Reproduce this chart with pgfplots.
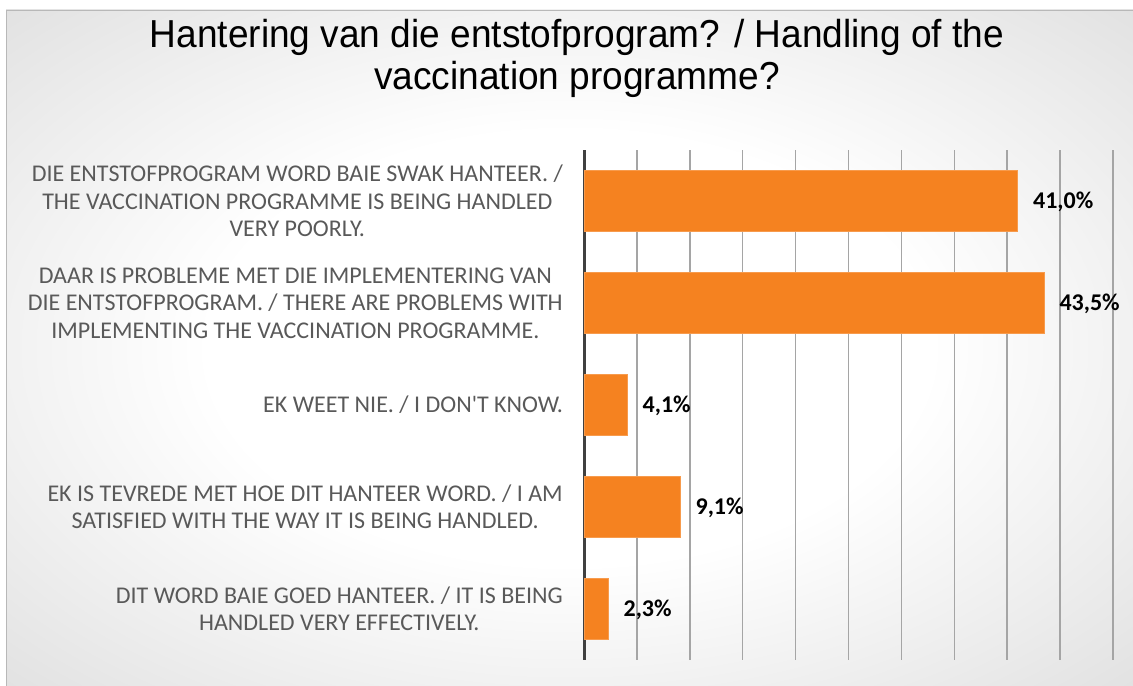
\documentclass[border=0pt]{standalone}
\usepackage{pgfplots}
\pgfplotsset{compat=1.18}
\usepackage{fontspec}
\setmainfont{Carlito}
\newfontfamily\titlefont{Liberation Sans}
\definecolor{barorange}{RGB}{245,130,32}
\definecolor{labgray}{RGB}{89,89,89}
\definecolor{gridgray}{RGB}{165,165,165}
\definecolor{axisdark}{RGB}{64,64,64}
\pgfdeclareradialshading{bgshade}{\pgfpoint{0bp}{0bp}}{color(0bp)=(white); color(16bp)=(white); color(50bp)=(black!20); color(72bp)=(black!27)}
\begin{document}
\begin{tikzpicture}[x=1bp,y=1bp]
\useasboundingbox (0,0) rectangle (1133,686);
\shade[shading=bgshade] (6,0) rectangle (1133,676);
\draw[black!28, line width=0.8bp] (6.4,0) -- (6.4,675.6) -- (1133,675.6);
\node[font=\titlefont\fontsize{39bp}{44bp}\selectfont, anchor=base, inner sep=0pt, xscale=0.95] at (577,638) {Hantering van die entstofprogram? / Handling of the};
\node[font=\titlefont\fontsize{39bp}{44bp}\selectfont, anchor=base, inner sep=0pt, xscale=0.95] at (577,596) {vaccination programme?};
\begin{axis}[at={(584bp,26bp)}, anchor=south west, scale only axis,
  width=529bp, height=510bp,
  xmin=0, xmax=50, ymin=-0.5, ymax=4.5,
  xbar, bar width=0.6,
  axis lines=left, axis line style={-},
  x axis line style={draw=none},
  y axis line style={draw=axisdark, line width=3bp},
  xtick={0,5,...,50}, xticklabels={},
  xmajorgrids, major grid style={gridgray, line width=1.5bp},
  major tick length=0pt,
  ytick={0,1,2,3,4},
  yticklabels={{DIT WORD BAIE GOED HANTEER. / IT IS BEING\\HANDLED VERY EFFECTIVELY.},
    {EK IS TEVREDE MET HOE DIT HANTEER WORD. / I AM\\SATISFIED WITH THE WAY IT IS BEING HANDLED.},
    {EK WEET NIE. / I DON\textquotesingle T KNOW.},
    {DAAR IS PROBLEME MET DIE IMPLEMENTERING VAN\\DIE ENTSTOFPROGRAM. / THERE ARE PROBLEMS WITH\\IMPLEMENTING THE VACCINATION PROGRAMME.},
    {DIE ENTSTOFPROGRAM WORD BAIE SWAK HANTEER. /\\THE VACCINATION PROGRAMME IS BEING HANDLED\\VERY POORLY.}},
  yticklabel style={font=\fontsize{24bp}{27.5bp}\selectfont, text=labgray, align=center, inner sep=0pt, xshift=-21bp},
  point meta=x,
  nodes near coords={\pgfmathprintnumber[fixed,fixed zerofill,precision=1,use comma,assume math mode=true]{\pgfplotspointmeta}\%},
  nodes near coords style={font=\bfseries\fontsize{24bp}{28bp}\selectfont, text=black, anchor=west, inner sep=0pt, xshift=15bp, yshift=-1bp},
]
\addplot[fill=barorange, draw=barorange!80!white, line width=0.6bp] coordinates {(2.3,0) (9.1,1) (4.1,2) (43.5,3) (41.0,4)};
\end{axis}
\end{tikzpicture}
\end{document}
